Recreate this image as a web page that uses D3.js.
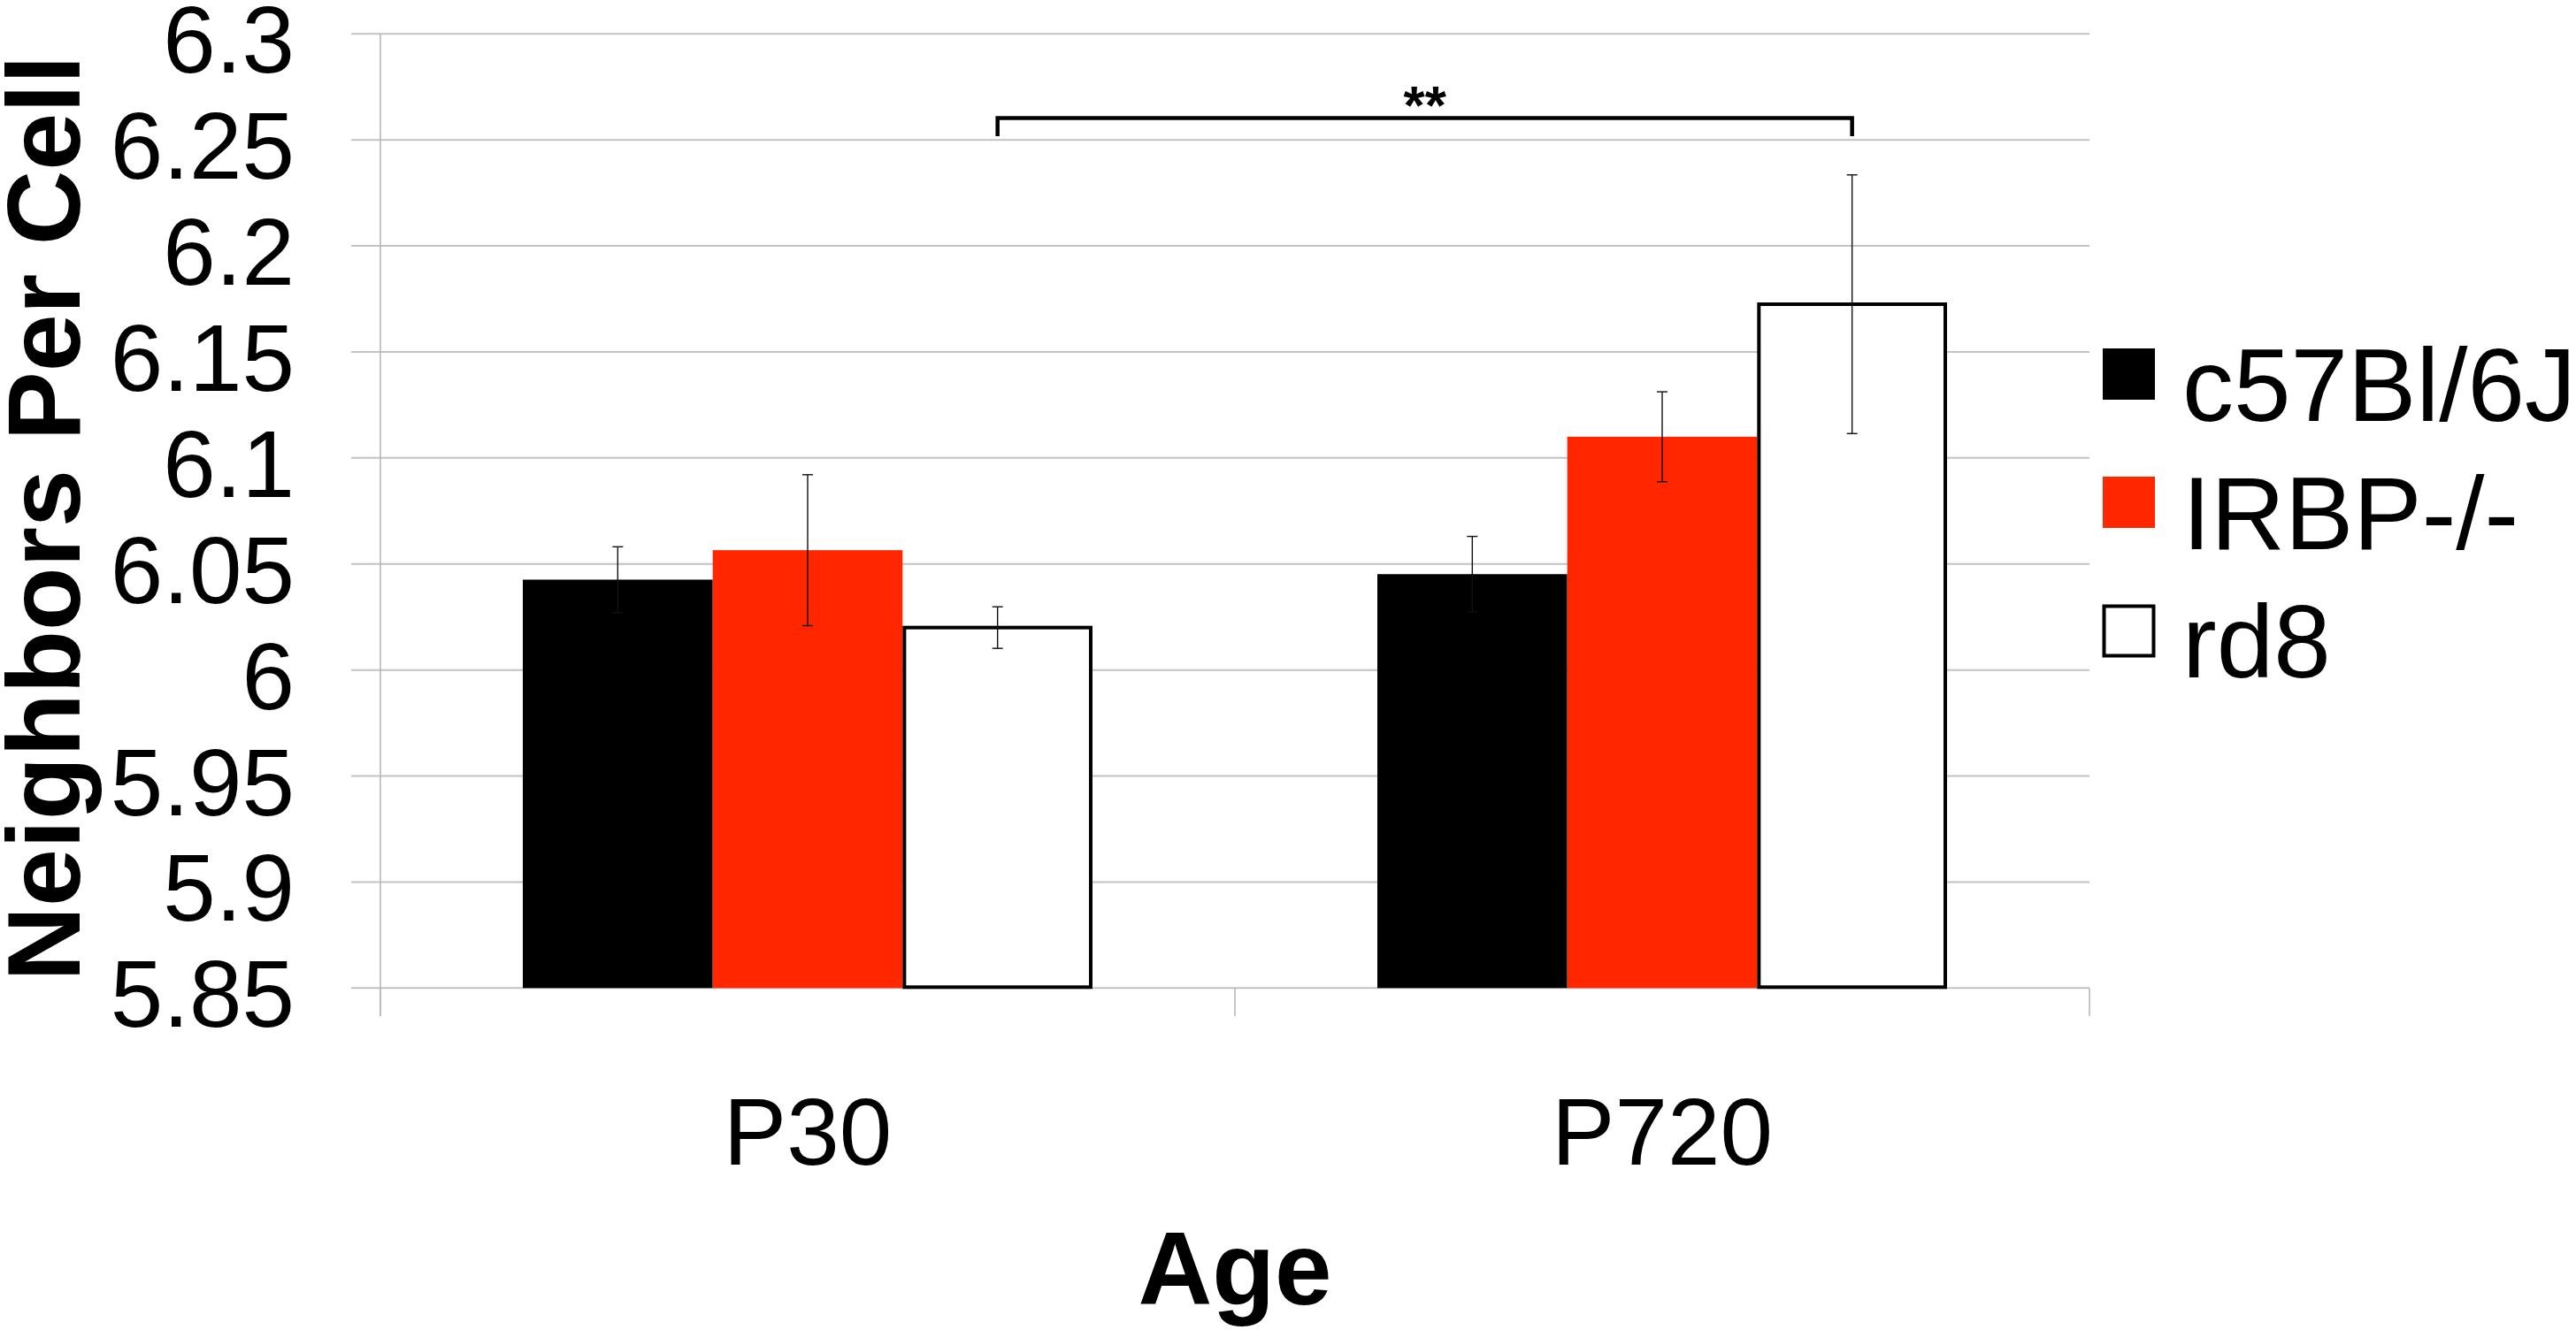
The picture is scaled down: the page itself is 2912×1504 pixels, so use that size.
<!DOCTYPE html>
<html>
<head>
<meta charset="utf-8">
<script src="https://cdn.jsdelivr.net/npm/d3@7"></script>
<style>
  html, body { margin: 0; padding: 0; background: #fff; }
  svg { display: block; }
  text { font-family: "Liberation Sans", Arial, Helvetica, sans-serif; fill: #000; }
</style>
</head>
<body>
<svg id="chart" width="2912" height="1504"></svg>
<script>
// ---- data ----
const categories = ["P30", "P720"];
const seriesNames = ["c57Bl/6J", "IRBP-/-", "rd8"];
const seriesColors = ["#000000", "#ff2600", "#ffffff"];
const c57Values = [6.0426, 6.0452];
const irbpValues = [6.0565, 6.1100];
const rd8Values = [6.0200, 6.1725];
const c57Errors = [0.0155, 0.0178];
const irbpErrors = [0.0356, 0.0212];
const rd8Errors = [0.0098, 0.0610];
const yTicks = [5.85, 5.9, 5.95, 6, 6.05, 6.1, 6.15, 6.2, 6.25, 6.3];
const yTickLabels = ["5.85", "5.9", "5.95", "6", "6.05", "6.1", "6.15", "6.2", "6.25", "6.3"];
const significanceLabel = "**";
const yTitle = "Neighbors Per Cell";
const xTitle = "Age";

const seriesValues = [c57Values, irbpValues, rd8Values];
const seriesErrors = [c57Errors, irbpErrors, rd8Errors];

const svg = d3.select("#chart");
const pL = 430, pR = 2362, pT = 38.3, pB = 1117.3;

const x0 = d3.scaleBand().domain(categories).range([pL, pR]).paddingInner(1/3).paddingOuter(1/6);
const x1 = d3.scaleBand().domain(seriesNames).range([0, x0.bandwidth()]);
const y = d3.scaleLinear().domain([5.85, 6.3]).range([pB, pT]);

// gridlines
svg.append("g").selectAll("line").data(yTicks).join("line")
  .attr("x1", 397).attr("x2", pR)
  .attr("y1", d => y(d)).attr("y2", d => y(d))
  .attr("stroke", "#c2c2c2").attr("stroke-width", 2);

// left axis line
svg.append("line").attr("x1", pL).attr("x2", pL).attr("y1", pT).attr("y2", 1149)
  .attr("stroke", "#b8b8b8").attr("stroke-width", 1.6);

// x category ticks
const xBoundaries = [pL, (x0(categories[0]) + x0.bandwidth() + x0(categories[1])) / 2, pR];
svg.append("g").selectAll("line").data(xBoundaries).join("line")
  .attr("x1", d => d).attr("x2", d => d).attr("y1", pB).attr("y2", 1149)
  .attr("stroke", "#b8b8b8").attr("stroke-width", 1.6);

// y tick labels
svg.append("g").selectAll("text").data(yTicks).join("text")
  .attr("x", 333).attr("y", d => y(d) + 44)
  .attr("text-anchor", "end").attr("font-size", 107)
  .text((d, i) => yTickLabels[i]);

// bars
const groups = svg.append("g").selectAll("g").data(categories).join("g")
  .attr("transform", c => `translate(${x0(c)},0)`);

seriesNames.forEach((s, si) => {
  groups.append("rect")
    .attr("x", x1(s) + (si === 2 ? 2 : 0))
    .attr("width", x1.bandwidth() - (si === 2 ? 4 : 0))
    .attr("y", (c, ci) => y(seriesValues[si][ci]))
    .attr("height", (c, ci) => y(5.85) - y(seriesValues[si][ci]) - (si === 2 ? 1 : 0))
    .attr("fill", seriesColors[si])
    .attr("stroke", si === 2 ? "#000" : "none")
    .attr("stroke-width", si === 2 ? 4 : 0);
});

// error bars
seriesNames.forEach((s, si) => {
  const cx = c => x0(c) + x1(s) + x1.bandwidth() / 2;
  const eb = svg.append("g").attr("stroke", "#111").attr("stroke-width", 1.4);
  categories.forEach((c, ci) => {
    const v = seriesValues[si][ci], e = seriesErrors[si][ci];
    const xc = cx(c);
    eb.append("line").attr("x1", xc).attr("x2", xc).attr("y1", y(v + e)).attr("y2", y(v - e));
    eb.append("line").attr("x1", xc - 6).attr("x2", xc + 6).attr("y1", y(v + e)).attr("y2", y(v + e));
    eb.append("line").attr("x1", xc - 6).attr("x2", xc + 6).attr("y1", y(v - e)).attr("y2", y(v - e));
  });
});

// significance bracket between rd8 bars
const bx1 = x0(categories[0]) + x1(seriesNames[2]) + x1.bandwidth() / 2;
const bx2 = x0(categories[1]) + x1(seriesNames[2]) + x1.bandwidth() / 2;
svg.append("path")
  .attr("d", `M${bx1},154 V133.5 H${bx2} V154`)
  .attr("fill", "none").attr("stroke", "#000").attr("stroke-width", 4.5);
svg.append("text").attr("x", (bx1 + bx2) / 2).attr("y", 140)
  .attr("text-anchor", "middle").attr("font-size", 62).attr("font-weight", "bold")
  .text(significanceLabel);

// x category labels
svg.append("g").selectAll("text").data(categories).join("text")
  .attr("x", c => x0(c) + x0.bandwidth() / 2).attr("y", 1317)
  .attr("text-anchor", "middle").attr("font-size", 107)
  .text(c => c);

// axis titles
svg.append("text").attr("x", (pL + pR) / 2).attr("y", 1475)
  .attr("text-anchor", "middle").attr("font-size", 116).attr("font-weight", "bold")
  .text(xTitle);
svg.append("text").attr("transform", "translate(89.5,586) rotate(-90)")
  .attr("text-anchor", "middle").attr("font-size", 117).attr("font-weight", "bold")
  .text(yTitle);

// legend
const legend = svg.append("g").selectAll("g").data(seriesNames).join("g")
  .attr("transform", (d, i) => `translate(2377,${394 + i * 145})`);
legend.append("rect")
  .attr("x", (d, i) => i === 2 ? 1.5 : 0).attr("y", (d, i) => i === 2 ? 1.5 : 0)
  .attr("width", (d, i) => i === 2 ? 56 : 59).attr("height", (d, i) => i === 2 ? 56 : 58)
  .attr("fill", (d, i) => seriesColors[i])
  .attr("stroke", (d, i) => i === 2 ? "#000" : "none").attr("stroke-width", 4);
legend.append("text").attr("x", 90).attr("y", 81.5)
  .attr("font-size", 116).text(d => d);
</script>
</body>
</html>
